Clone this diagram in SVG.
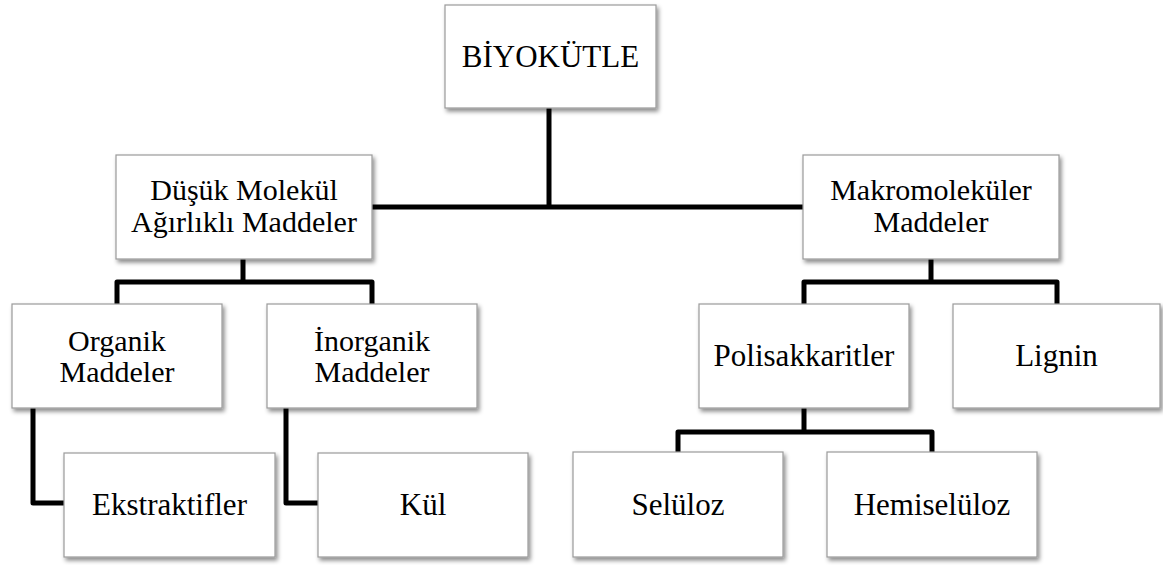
<svg xmlns="http://www.w3.org/2000/svg" width="1163" height="565" viewBox="0 0 1163 565">
<defs>
<filter id="sh" x="-10%" y="-10%" width="125%" height="130%">
<feDropShadow dx="2" dy="3" stdDeviation="2" flood-color="#000" flood-opacity="0.45"/>
</filter>
<style>
.box{fill:#fff;stroke:#9a9a9a;stroke-width:1.2;filter:url(#sh)}
.t{font-family:"Liberation Serif","Times New Roman",serif;font-size:31px;fill:#000;text-anchor:middle}
.t2{font-size:30px}
.c{fill:none;stroke:#000;stroke-width:5;stroke-linejoin:round;stroke-linecap:butt}
</style>
</defs>
<rect width="1163" height="565" fill="#fff"/>
<g id="connectors">
<path class="c" d="M549 108V207"/>
<path class="c" d="M372 207H803"/>
<path class="c" d="M243 259V282M117 304V282H372V304"/>
<path class="c" d="M33 408V503H64"/>
<path class="c" d="M286 408V503H318"/>
<path class="c" d="M931 259V282M804 304V282H1057V304"/>
<path class="c" d="M804 408V432M678 452V432H932V452"/>
</g>
<g id="biyokutle"><rect class="box" x="445" y="5" width="211" height="103"/><text class="t" x="550.5" y="67">BİYOKÜTLE</text></g>
<g id="dusuk"><rect class="box" x="116" y="155" width="256" height="104"/><text class="t t2" x="244" y="200">Düşük Molekül</text><text class="t t2" x="244" y="232">Ağırlıklı Maddeler</text></g>
<g id="makro"><rect class="box" x="803" y="155" width="256" height="104"/><text class="t t2" x="931" y="200">Makromoleküler</text><text class="t t2" x="931" y="232">Maddeler</text></g>
<g id="organik"><rect class="box" x="12" y="304" width="210" height="104"/><text class="t t2" x="117" y="351">Organik</text><text class="t t2" x="117" y="382">Maddeler</text></g>
<g id="inorganik"><rect class="box" x="267" y="304" width="210" height="104"/><text class="t t2" x="372" y="351">İnorganik</text><text class="t t2" x="372" y="382">Maddeler</text></g>
<g id="polisakkaritler"><rect class="box" x="699" y="304" width="210" height="104"/><text class="t" x="804" y="366">Polisakkaritler</text></g>
<g id="lignin"><rect class="box" x="953" y="304" width="207" height="104"/><text class="t" x="1056.5" y="366">Lignin</text></g>
<g id="ekstraktifler"><rect class="box" x="64" y="453" width="211" height="104"/><text class="t" x="169.5" y="515">Ekstraktifler</text></g>
<g id="kul"><rect class="box" x="318" y="453" width="210" height="104"/><text class="t" x="423" y="515">Kül</text></g>
<g id="seluloz"><rect class="box" x="573" y="452" width="210" height="105"/><text class="t" x="678" y="515">Selüloz</text></g>
<g id="hemiseluloz"><rect class="box" x="827" y="452" width="210" height="105"/><text class="t" x="932" y="515">Hemiselüloz</text></g>
</svg>
